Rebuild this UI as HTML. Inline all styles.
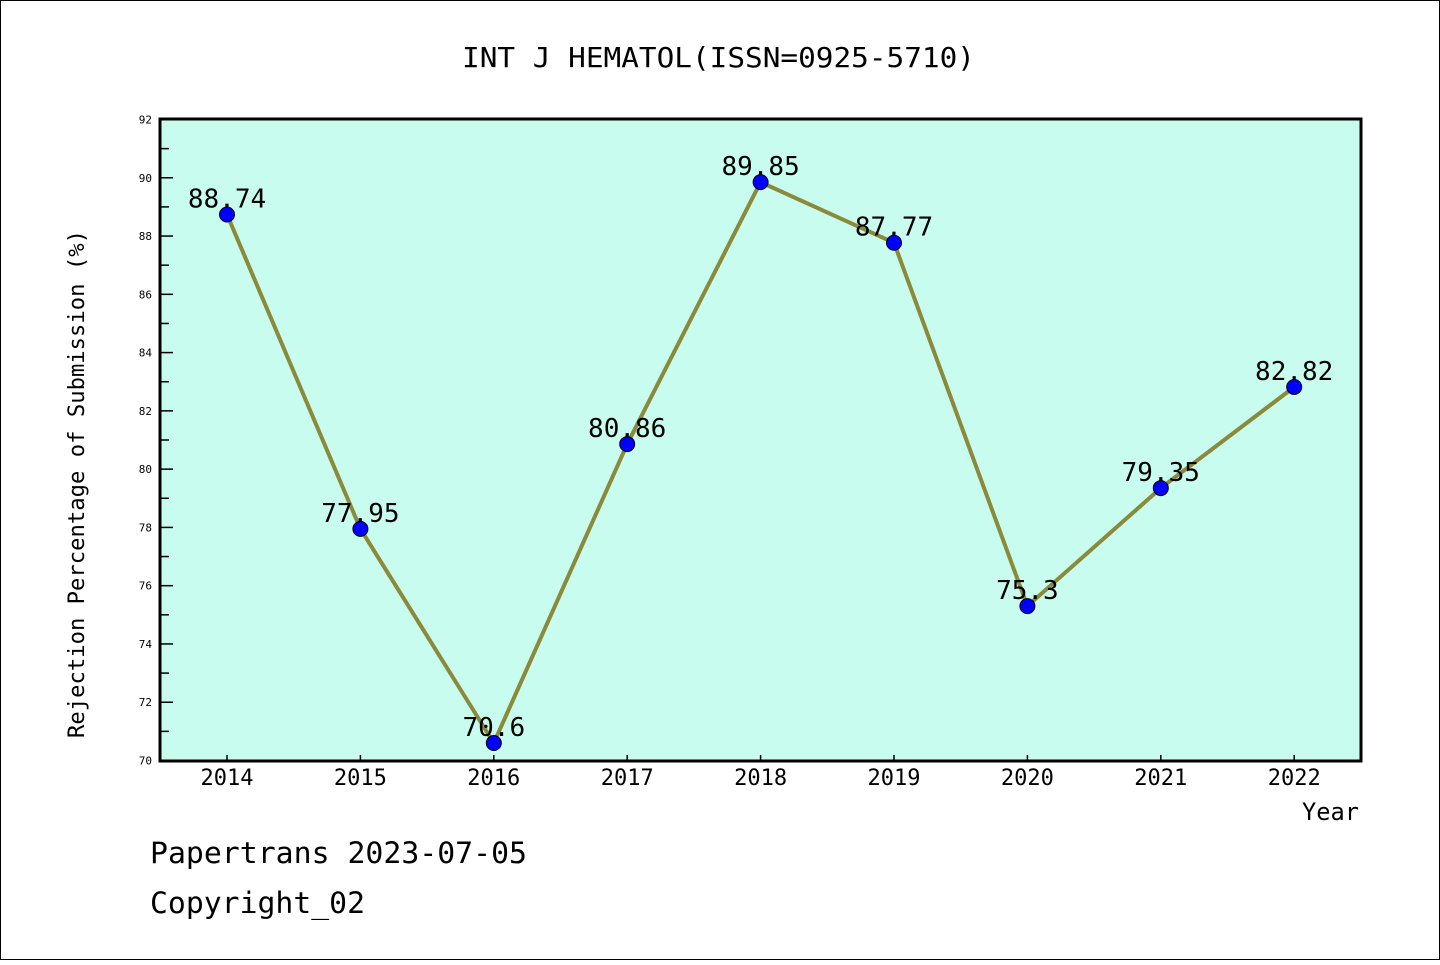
<!DOCTYPE html>
<html><head><meta charset="utf-8"><style>
body{margin:0;background:#fff}
svg text{font-family:"DejaVu Sans Mono","Liberation Mono",monospace}
</style></head><body>
<svg width="1440" height="960" xmlns="http://www.w3.org/2000/svg">
<rect x="0.5" y="0.5" width="1439" height="959" fill="#fff" stroke="#000"/>
<text x="462" y="67" font-size="28" textLength="513" lengthAdjust="spacingAndGlyphs">INT J HEMATOL(ISSN=0925-5710)</text>
<rect x="160" y="119" width="1201" height="642" fill="#c7fcee"/>
<g id="ticks"></g>
<g id="series"></g>
<rect x="160" y="119" width="1201" height="642" fill="none" stroke="#000" stroke-width="3"/>
<text transform="translate(84,738) rotate(-90)" font-size="22" textLength="508" lengthAdjust="spacingAndGlyphs">Rejection Percentage of Submission (%)</text>
<text x="1302" y="820" font-size="24" textLength="57" lengthAdjust="spacingAndGlyphs">Year</text>
<text x="150" y="863" font-size="29" textLength="377" lengthAdjust="spacingAndGlyphs">Papertrans 2023-07-05</text>
<text x="150" y="913" font-size="29" textLength="215" lengthAdjust="spacingAndGlyphs">Copyright_02</text>
</svg>
<script>
const years=['2014','2015','2016','2017','2018','2019','2020','2021','2022'];
const values=[88.74,77.95,70.6,80.86,89.85,87.77,75.3,79.35,82.82];
const labels=['88.74','77.95','70.6','80.86','89.85','87.77','75.3','79.35','82.82'];
const yTicks=[70,72,74,76,78,80,82,84,86,88,90,92];
const NS='http://www.w3.org/2000/svg';
const yMin=70,yMax=92,plotTop=119.5,plotBot=760.5;
const yScale=v=>plotBot-(v-yMin)/(yMax-yMin)*(plotBot-plotTop);
const xScale=i=>227+i*133.4;
function mk(t,a,p){const e=document.createElementNS(NS,t);for(const k in a)e.setAttribute(k,a[k]);p.appendChild(e);return e;}
const tg=document.getElementById('ticks');
yTicks.forEach((v,i)=>{
 const l=mk('line',{x1:160,x2:173,y1:yScale(v),y2:yScale(v),stroke:'#000','stroke-width':1.5},tg);
 
 
 if(i<yTicks.length-1){const m=mk('line',{x1:160,x2:169,y1:yScale(v+1),y2:yScale(v+1),stroke:'#000','stroke-width':1.5},tg);
 
 }
 const t=mk('text',{x:152,y:yScale(v)+4,'font-size':11,'text-anchor':'end','font-family':'Liberation Sans, sans-serif'},tg);t.textContent=v;
 
 
});
years.forEach((yr,i)=>{
 const l=mk('line',{x1:xScale(i),x2:xScale(i),y1:761,y2:755,stroke:'#000','stroke-width':1.5},tg);
 
 
 const t=mk('text',{x:xScale(i),y:785,'font-size':22,'text-anchor':'middle','font-family':'Liberation Sans, sans-serif'},tg);t.textContent=yr;
 
 
});
const sg=document.getElementById('series');
const pl=mk('polyline',{points:values.map((v,i)=>xScale(i)+','+yScale(v)).join(' '),fill:'none',stroke:'#8b8a3a','stroke-width':4},sg);


values.forEach((v,i)=>{
 const c=mk('circle',{cx:xScale(i),cy:yScale(v),r:7.5,fill:'#0000ff',stroke:'#000','stroke-width':1},sg);
 
 
 const t=mk('text',{x:xScale(i),y:yScale(v)-7,'font-size':26,'text-anchor':'middle'},sg);t.textContent=labels[i];
 
 
});
</script>
</body></html>
